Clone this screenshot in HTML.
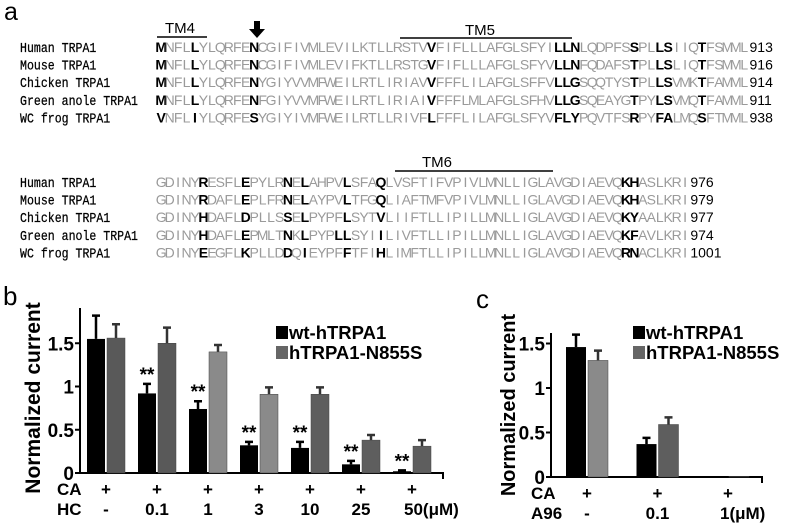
<!DOCTYPE html>
<html><head><meta charset="utf-8"><style>
body{margin:0;background:#fff;width:787px;height:525px;overflow:hidden}
svg{display:block}
.seq{font-family:"Liberation Sans",sans-serif;font-size:14px}
.lab{font-family:"Liberation Mono",monospace;font-size:13.5px;fill:#000;stroke:#000;stroke-width:0.25}
.ax{font-family:"Liberation Sans",sans-serif;font-weight:bold;fill:#000}
</style></head><body>
<svg id="fig" width="787" height="525" viewBox="0 0 787 525">
<text x="4" y="20" font-family="Liberation Sans,sans-serif" font-size="25">a</text>
<text x="180" y="33" text-anchor="middle" font-family="Liberation Sans,sans-serif" font-size="15">TM4</text>
<line x1="157" y1="37" x2="207" y2="37" stroke="#000" stroke-width="1.5"/>
<polygon points="254,21 260,21 260,29 265,29 257,38 249,29 254,29" fill="#000"/>
<text x="480" y="35" text-anchor="middle" font-family="Liberation Sans,sans-serif" font-size="15">TM5</text>
<line x1="400" y1="38" x2="572" y2="38" stroke="#000" stroke-width="1.5"/>
<text x="437" y="167" text-anchor="middle" font-family="Liberation Sans,sans-serif" font-size="15">TM6</text>
<line x1="395" y1="171" x2="553" y2="171" stroke="#000" stroke-width="1.5"/>
<g id="align"></g>
<g id="chartB"></g>
<g id="chartC"></g>
</svg>
<script>
const NS="http://www.w3.org/2000/svg";
function mk(p,tag,at,txt){const e=document.createElementNS(NS,tag);for(const k in at)e.setAttribute(k,at[k]);if(txt!==undefined)e.textContent=txt;p.appendChild(e);return e;}

// ---- alignment (uppercase = bold/black, lowercase = gray) ----
const species=["Human TRPA1","Mouse TRPA1","Chicken TRPA1","Green anole TRPA1","WC frog TRPA1"];
const block1=["MnflLylqrfeNcgifivmlevilktllrstvVfiflllafglsfyiLLNlqdpfsSplLSiiqTfsmml",
"MnflLylqrfeNcgifivmlevifktllrstgVfiflllafglsfyvLLNfqdafsTplLSliqTfsmml",
"MnflLylqrfeNygiyvvmfweilrtliriavVffflilafglsffvLLGsqqtysTplLSvmkTfamml",
"MnflLylqrfeNfgiyvvmfweilrtliriaiVffflmlafglsfhvLLGsqeaygTpyLSvmqTfamml",
"VnflIylqrfeSygiyivmfweilrtllrivfLffflilafglsfyvFLYpqvtfsRpyFAlmqSftmml"];
const end1=["913","916","914","911","938"];
const block2=["gdinyResflEpylrNeLahpvLsfaQlvsftifvpivlmnlliglavgdiaevqKHaslkri",
"gdinyRdaflEplfrNeLaypvLtfgQliaftmfvpivlmnlliglavgdiaevqKHaslkri",
"gdinyHdaflDpllsSeLpypfLsytVliiftllipillmnlliglavgdiaevqKYaalkri",
"gdinyHdaflEpmltNkLpypLLsyiIlivftllipillmnlliglavgdiaevqKFavlkri",
"gdinyEegflKplldDqIeypfFtfiHlimftllipillmnlliglavgdiaevqRNaclkri"];
const end2=["976","979","977","974","1001"];
const al=document.getElementById('align');
function drawBlock(rows,ends,base,tag){
  rows.forEach((s,r)=>{
    const y=base+r*17.6;
    const lab=mk(al,'text',{x:20,y:y,class:'lab',textLength:species[r].length*6.94,lengthAdjust:'spacingAndGlyphs'},species[r]);
    
    
    const t=mk(al,'text',{y:y,class:'seq'});
    
    
    for(let i=0;i<s.length;i++){
      const c=s[i],up=c===c.toUpperCase();
      mk(t,'tspan',{x:157+i*8.45+4.2,'text-anchor':'middle',fill:up?'#000':'#9a9a9a','font-weight':up?'bold':'normal'},c.toUpperCase());
    }
    const n=mk(al,'text',{x:157+s.length*8.45+1,y:y,class:'seq','font-size':'13'},ends[r]);
    
    
  });
}
drawBlock(block1,end1,52,'tm4-5');
drawBlock(block2,end2,187,'tm6');

// ---- chart b ----
const bCats=["-","0.1","1","3","10","25","50"];
const bWt=[1.55,0.92,0.74,0.32,0.29,0.10,0.02];
const bWtErr=[0.27,0.11,0.09,0.04,0.07,0.04,0.01];
const bMut=[1.56,1.50,1.40,0.91,0.91,0.38,0.31];
const bMutErr=[0.16,0.18,0.08,0.08,0.08,0.06,0.07];
const bMutShade=["#595959","#595959","#8a8a8a","#8a8a8a","#5e5e5e","#5e5e5e","#5e5e5e"];
const bSig=["","**","**","**","**","**","**"];
const bTicks=[0,0.5,1,1.5];
// ---- chart c ----
const cCats=["-","0.1","1"];
const cWt=[1.46,0.37,0.01];
const cWtErr=[0.14,0.07,0];
const cMut=[1.31,0.59,0.005];
const cMutErr=[0.11,0.08,0];
const cMutShade=["#8a8a8a","#5e5e5e","#5e5e5e"];
const cTicks=[0,0.5,1,1.5];

function chart(g,o){
  const y=v=>o.y0-v*o.py;
  const x=i=>o.c0+i*o.step;
  const ax=mk(g,'path',{d:`M${o.ax},${o.top} V${o.y0} H${o.xend} V${o.y0+6}`,fill:'none',stroke:'#000','stroke-width':2});
  
  
  o.ticks.forEach(t=>{
    const tk=mk(g,'line',{x1:o.ax-5,x2:o.ax,y1:y(t),y2:y(t),stroke:'#000','stroke-width':2});
    
    
    const tl=mk(g,'text',{x:o.ax-6,y:y(t)+7,'text-anchor':'end',class:'ax','font-size':19},String(t));
    
    
  });
  const ty=o.y0-o.titleOff;
  const yt=mk(g,'text',{x:o.titleX,y:ty,class:'ax','font-size':o.titleSize,'text-anchor':'middle',transform:`rotate(-90 ${o.titleX} ${ty})`},'Normalized current');
  
  
  o.wt.forEach((v,i)=>{
    const cx=x(i);
    const b=mk(g,'rect',{x:cx-o.bw-1,y:y(v),width:o.bw,height:o.y0-y(v),fill:'#000'});
    
    
    if(o.wtE[i]>0){const e=mk(g,'path',{d:`M${cx-1-o.bw/2},${y(v)} V${y(v+o.wtE[i])} M${cx-1-o.bw/2-4},${y(v+o.wtE[i])} H${cx-1-o.bw/2+4}`,stroke:'#000','stroke-width':2.5});
      
      }
    const m=o.mut[i];
    const b2=mk(g,'rect',{x:cx+1,y:y(m),width:o.bw,height:o.y0-y(m),fill:o.shade[i],stroke:'#444','stroke-width':0.5});
    
    
    if(o.mutE[i]>0){const e2=mk(g,'path',{d:`M${cx+1+o.bw/2},${y(m)} V${y(m+o.mutE[i])} M${cx+1+o.bw/2-4},${y(m+o.mutE[i])} H${cx+1+o.bw/2+4}`,stroke:'#333','stroke-width':2.5});
      
      }
    if(o.sig&&o.sig[i]){const s=mk(g,'text',{x:cx-1-o.bw/2,y:y(v+o.wtE[i])-3,'text-anchor':'middle',class:'ax','font-size':19},o.sig[i]);
      
      }
    const p=mk(g,'text',{x:cx,y:o.y0+22,'text-anchor':'middle',class:'ax','font-size':17},'+');
    
    
    const lbl=o.cats[i]+(i===o.cats.length-1?'(μM)':'');
    const c=mk(g,'text',{x:i===o.cats.length-1?cx-8:cx,y:o.y0+42,'text-anchor':i===o.cats.length-1?'start':'middle',class:'ax','font-size':17},lbl);
    
    
  });
  const r1=mk(g,'text',{x:o.rowX,y:o.y0+22,class:'ax','font-size':17},'CA');
  
  
  const r2=mk(g,'text',{x:o.rowX,y:o.y0+42,class:'ax','font-size':17},o.rowLabel);
  
  
  const pl=mk(g,'text',{x:o.panelX,y:o.panelY,'font-family':'Liberation Sans,sans-serif','font-size':26},o.panel);
  
  
  [['#000','wt-hTRPA1'],['#666','hTRPA1-N855S']].forEach((l,k)=>{
    const sq=mk(g,'rect',{x:o.lx,y:o.ly+k*20-12,width:12,height:13,fill:l[0]});
    
    
    const lt=mk(g,'text',{x:o.lx+13,y:o.ly+k*20+1,class:'ax','font-size':18.5},l[1]);
    
    
  });
}
chart(document.getElementById('chartB'),{y0:473,py:86.5,top:308,ax:80,xend:443,c0:106,step:51,bw:18,
  wt:bWt,wtE:bWtErr,mut:bMut,mutE:bMutErr,shade:bMutShade,sig:bSig,cats:bCats,ticks:bTicks,
  titleX:40,titleOff:75,titleSize:21,rowX:57,rowLabel:'HC',panel:'b',panelX:3,panelY:305,lx:276,ly:338});
chart(document.getElementById('chartC'),{y0:477,py:89,top:333,ax:551,xend:762,c0:587,step:70.5,bw:20,
  wt:cWt,wtE:cWtErr,mut:cMut,mutE:cMutErr,shade:cMutShade,sig:null,cats:cCats,ticks:cTicks,
  titleX:515,titleOff:72,titleSize:20,rowX:531,rowLabel:'A96',panel:'c',panelX:476,panelY:308,lx:633,ly:338});
</script>
</body></html>
